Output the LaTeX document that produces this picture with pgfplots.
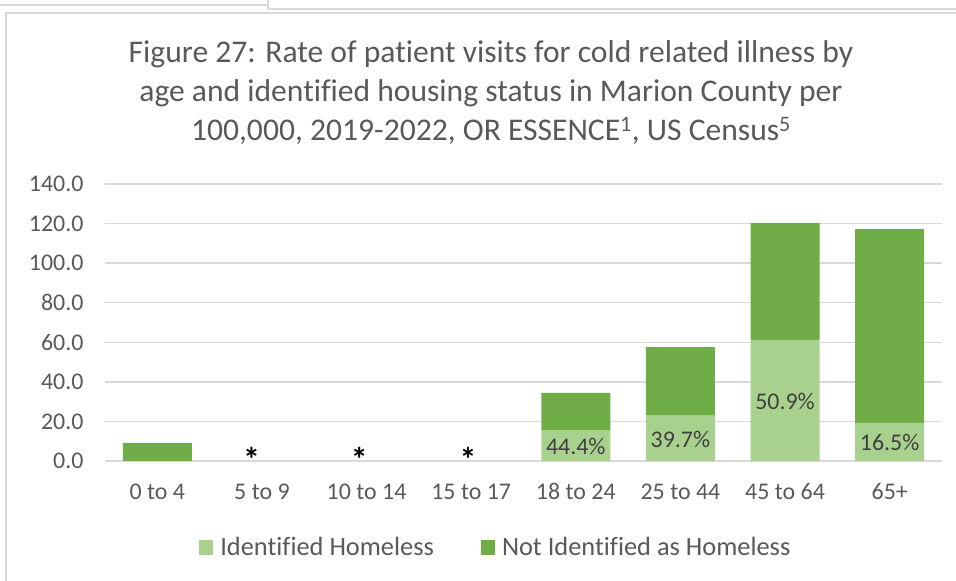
\documentclass[border=0pt]{standalone}
\usepackage{fontspec}
\setmainfont{Carlito}[Ligatures=CommonOff]
\usepackage{pgfplots}
\pgfplotsset{compat=1.18}
\definecolor{lightg}{HTML}{A9D18E}
\definecolor{darkg}{HTML}{70AD47}
\definecolor{gridc}{HTML}{D9D9D9}
\definecolor{txt}{HTML}{595959}
\definecolor{lab}{HTML}{404040}
\begin{document}
\begin{tikzpicture}[x=1bp,y=1bp]
\useasboundingbox (0,0) rectangle (956,581);
\draw[gridc, line width=1.5bp] (0,576) -- (268,576);
\draw[gridc, line width=1.5bp] (268,581) -- (268,572) -- (956,572);
\draw[gridc, line width=2bp] (6,-2) -- (6,568) -- (958,568);
\node[anchor=base, text=txt, font=\fontsize{31.7}{39}\selectfont, inner sep=0pt] at (491,518) {Figure 27: Rate of patient visits for cold related illness by};
\node[anchor=base, text=txt, font=\fontsize{31.7}{39}\selectfont, inner sep=0pt] at (491,479) {age and identified housing status in Marion County per};
\node[anchor=base, text=txt, font=\fontsize{31.7}{39}\selectfont, inner sep=0pt] at (491,440) {100,000, 2019-2022, OR ESSENCE\textsuperscript{1}, US Census\textsuperscript{5}};
\begin{axis}[at={(105bp,120bp)}, anchor=south west, scale only axis,
  width=837bp, height=277bp,
  ybar stacked, bar width=69bp,
  xmin=-0.5, xmax=7.5, ymin=0, ymax=140,
  ytick={0,20,...,140},
  xtick=data,
  xticklabels={0 to 4,5 to 9,10 to 14,15 to 17,18 to 24,25 to 44,45 to 64,65+},
  ymajorgrids, grid style={gridc, line width=1.5bp},
  axis lines*=left,
  y axis line style={draw=none},
  x axis line style={gridc, line width=1.5bp},
  major tick length=0pt,
  tick style={draw=none},
  /pgf/number format/.cd, fixed, fixed zerofill, precision=1, assume math mode=true,
  /pgfplots/.cd,
  tick label style={font=\fontsize{24}{28}\selectfont, text=txt},
  yticklabel style={anchor=east, xshift=-18bp},
  xticklabel style={anchor=base, yshift=-39bp},
  legend style={at={(axis description cs:0.467,-0.31)}, anchor=center, draw=none,
    legend columns=2, font=\fontsize{26.5}{30}\selectfont, text=txt,
    /tikz/every odd column/.append style={column sep=5bp},
    /tikz/every even column/.append style={column sep=45bp}},
  legend image code/.code={\fill[#1] (0bp,-8bp) rectangle (14bp,7bp);},
]
\addplot[fill=lightg, draw=none] coordinates {(0,0) (1,0) (2,0) (3,0) (4,15.3) (5,22.9) (6,61.2) (7,19.3)};
\addlegendentry{Identified Homeless}
\addplot[fill=darkg, draw=none] coordinates {(0,9.1) (1,0) (2,0) (3,0) (4,19.1) (5,34.7) (6,59.1) (7,97.9)};
\addlegendentry{Not Identified as Homeless}
\end{axis}
\begin{axis}[at={(105bp,120bp)}, anchor=south west, scale only axis,
  width=837bp, height=277bp, hide axis, clip=false,
  xmin=-0.5, xmax=7.5, ymin=0, ymax=140]
\addplot[draw=none, mark=none, nodes near coords, point meta=explicit symbolic,
  nodes near coords style={anchor=center, text=lab, font=\fontsize{24}{28}\selectfont}]
  coordinates {(4,7.3) [44.4\%] (5,11.1) [39.7\%] (6,30.3) [50.9\%] (7,9.3) [16.5\%]};
\addplot[draw=none, mark=none, nodes near coords, point meta=explicit symbolic,
  nodes near coords style={anchor=base, text=black, font=\bfseries\fontsize{34}{38}\selectfont}]
  coordinates {(0.9,-5.1) [*] (1.93,-5.1) [*] (2.97,-5.1) [*]};
\end{axis}
\end{tikzpicture}
\end{document}
